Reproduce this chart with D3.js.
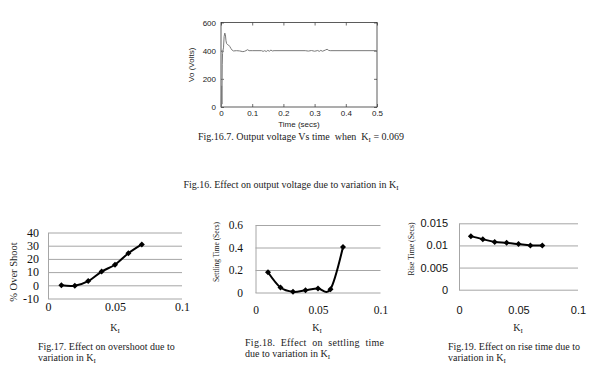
<!DOCTYPE html>
<html>
<head>
<meta charset="utf-8">
<script src="https://cdn.jsdelivr.net/npm/d3@7"></script>
<style>
body { margin: 0; background: #fff; }
text { white-space: pre; }
</style>
</head>
<body>
<script>

// Fig.16.7 step response
var timeVals = [0, 0.001, 0.002, 0.003, 0.004, 0.005, 0.006, 0.008, 0.010, 0.012, 0.014, 0.016, 0.018, 0.020, 0.024, 0.028, 0.032, 0.036, 0.040, 0.050, 0.060, 0.070, 0.075, 0.080, 0.085, 0.090, 0.100, 0.130, 0.135, 0.140, 0.145, 0.150, 0.155, 0.160, 0.165, 0.170, 0.270, 0.280, 0.290, 0.300, 0.310, 0.315, 0.320, 0.325, 0.330, 0.335, 0.340, 0.345, 0.350, 0.500]
var voltVals = [0, 0, 150, 20, 300, 380, 400, 420, 500, 525, 515, 470, 450, 445, 440, 430, 415, 403, 398, 400, 398, 393, 395, 400, 407, 400, 400, 400, 395, 400, 394, 402, 396, 404, 398, 400, 400, 397, 401, 396, 401, 395, 402, 396, 400, 405, 410, 402, 400, 400]
var voltTicks = [0, 200, 400, 600]
var timeTicks = [0, 0.1, 0.2, 0.3, 0.4, 0.5]

// Fig.17-19, effect of KI
var kValues = [0.01, 0.02, 0.03, 0.04, 0.05, 0.06, 0.07]
var overshoot = [0, -0.3, 3.2, 10.4, 15.6, 24.3, 31]
var settling = [0.18, 0.044, 0.006, 0.02, 0.035, 0.03, 0.405]
var riseTime = [0.0121, 0.0114, 0.0108, 0.0106, 0.0103, 0.0100, 0.0100]
var kTicks = [0, 0.05, 0.1]
var osTicks = [-10, 0, 10, 20, 30, 40]
var stTicks = [0, 0.2, 0.4, 0.6]
var rtTicks = [0, 0.005, 0.01, 0.015]

var serif = "'Liberation Serif', 'Times New Roman', serif"
var sans = "'Liberation Sans', Arial, sans-serif"
var fmt = function(d) { return String(+d.toFixed(3)) }

var svg = d3.select("body").append("svg").attr("width", 600).attr("height", 372)

// ---------- top: output voltage vs time ----------
var x0 = d3.scaleLinear().domain([0, 0.5]).range([221, 377])
var y0 = d3.scaleLinear().domain([0, 600]).range([107, 22.5])

function styleBox(g, size) {
  g.select(".domain").remove()
  g.selectAll(".tick line").attr("stroke", "#333").attr("stroke-width", 0.7)
  g.attr("font-family", sans).attr("font-size", size)
  g.selectAll(".tick text").attr("fill", "#222")
}

svg.append("g").attr("transform", "translate(0," + y0(0) + ")")
.call(d3.axisBottom(x0).tickValues(timeTicks).tickFormat(fmt).tickSizeInner(-3).tickSizeOuter(0).tickPadding(3))
.call(styleBox, 8)
svg.append("g").attr("transform", "translate(0," + y0(600) + ")")
.call(d3.axisTop(x0).tickValues(timeTicks).tickFormat("").tickSizeInner(-3).tickSizeOuter(0))
.call(styleBox, 8)
svg.append("g").attr("transform", "translate(" + x0(0) + ",0)")
.call(d3.axisLeft(y0).tickValues(voltTicks).tickSizeInner(-3).tickSizeOuter(0).tickPadding(5))
.call(styleBox, 8)
svg.append("g").attr("transform", "translate(" + x0(0.5) + ",0)")
.call(d3.axisRight(y0).tickValues(voltTicks).tickFormat("").tickSizeInner(-3).tickSizeOuter(0))
.call(styleBox, 8)

svg.append("rect")
.attr("x", x0(0)).attr("y", y0(600))
.attr("width", x0(0.5) - x0(0)).attr("height", y0(0) - y0(600))
.attr("fill", "none").attr("stroke", "#333").attr("stroke-width", 0.8)

var wave = timeVals.map(function(t, i) { return [t, voltVals[i]] })
svg.append("path").datum(wave)
.attr("fill", "none").attr("stroke", "#7a7a7a").attr("stroke-width", 1)
.attr("d", d3.line().x(function(d) { return x0(d[0]) }).y(function(d) { return y0(d[1]) }))

svg.append("text").attr("x", 299).attr("y", 127).attr("text-anchor", "middle")
.attr("font-family", sans).attr("font-size", 8).attr("fill", "#222").text("Time (secs)")
svg.append("text").attr("transform", "translate(194," + ((y0(0) + y0(600)) / 2) + ") rotate(-90)")
.attr("text-anchor", "middle").attr("font-family", sans).attr("font-size", 8).attr("fill", "#222")
.text("Vo (Volts)")

// text ending in K with subscript I
function kCaption(sel, before, after) {
  sel.append("tspan").text(before)
  sel.append("tspan").attr("font-size", "70%").attr("dy", 2).text("I")
  if (after) sel.append("tspan").attr("dy", -2).text(after)
}

svg.append("text").attr("x", 301).attr("y", 140).attr("text-anchor", "middle")
.attr("font-family", serif).attr("font-size", 10).attr("fill", "#222")
.call(kCaption, "Fig.16.7. Output voltage Vs time  when  K", " = 0.069")

svg.append("text").attr("x", 291).attr("y", 188).attr("text-anchor", "middle")
.attr("font-family", serif).attr("font-size", 10).attr("fill", "#222")
.call(kCaption, "Fig.16. Effect on output voltage due to variation in K", null)

// ---------- bottom: three small Excel-style charts ----------
function kChart(c) {
  var x = d3.scaleLinear().domain([0, 0.1]).range(c.xr)
  var y = d3.scaleLinear().domain(c.yDomain).range(c.yr)
  var w = c.xr[1] - c.xr[0]

  var gy = svg.append("g").attr("transform", "translate(" + c.xr[0] + ",0)")
  .call(d3.axisLeft(y).tickValues(c.yTicks).tickFormat(fmt).tickSizeInner(-w).tickSizeOuter(0).tickPadding(c.yPad))
  gy.attr("font-family", c.font).attr("font-size", c.fs)
  gy.selectAll(".tick line").attr("stroke", "#a6a6a6").attr("stroke-width", 1)
  gy.selectAll(".tick text").attr("fill", "#111")
  gy.select(".domain").attr("stroke", "#a6a6a6")

  var gx = svg.append("g").attr("transform", "translate(0," + c.yr[0] + ")")
  .call(d3.axisBottom(x).tickValues(kTicks).tickFormat(fmt).tickSize(0).tickPadding(c.xPad))
  gx.attr("font-family", c.font).attr("font-size", c.fs)
  gx.select(".domain").remove()
  gx.selectAll(".tick text").attr("fill", "#111")

  var pts = kValues.map(function(k, i) { return [k, c.values[i]] })
  svg.append("path").datum(pts)
  .attr("fill", "none").attr("stroke", "#000").attr("stroke-width", 2)
  .attr("d", d3.line().curve(d3.curveCatmullRom.alpha(0))
    .x(function(d) { return x(d[0]) }).y(function(d) { return y(d[1]) }))

  svg.selectAll(null).data(pts).enter().append("path")
  .attr("transform", function(d) { return "translate(" + x(d[0]) + "," + y(d[1]) + ") rotate(45)" })
  .attr("d", d3.symbol().type(d3.symbolSquare).size(18))
  .attr("fill", "#000")

  var t = svg.append("text")
  .attr("transform", "translate(" + c.titleX + "," + c.titleY + ") rotate(-90)")
  .attr("text-anchor", "middle").attr("font-family", serif).attr("font-size", c.titleFs)
  .attr("fill", "#222").text(c.title)
  if (c.titleLen) t.attr("textLength", c.titleLen).attr("lengthAdjust", "spacingAndGlyphs")

  svg.append("text").attr("x", c.kX).attr("y", 331).attr("text-anchor", "middle")
  .attr("font-family", serif).attr("font-size", 10).attr("fill", "#222")
  .call(kCaption, "K", null)

  var l1 = svg.append("text").attr("x", c.capX).attr("y", c.capY)
  .attr("font-family", serif).attr("font-size", 10).attr("fill", "#222").text(c.cap1)
  if (c.capLen) l1.attr("textLength", c.capLen).attr("lengthAdjust", "spacing")
  svg.append("text").attr("x", c.capX).attr("y", c.capY + 11)
  .attr("font-family", serif).attr("font-size", 10).attr("fill", "#222")
  .call(kCaption, c.cap2, null)
}

kChart({
  xr: [48, 182], yr: [298.5, 232.5], yDomain: [-10, 40], yTicks: osTicks,
  values: overshoot, font: serif, fs: 12, yPad: 9, xPad: 3.6,
  title: "% Over Shoot", titleX: 17, titleY: 272, titleFs: 10.5,
  kX: 115, capX: 38, capY: 350,
  cap1: "Fig.17. Effect on overshoot due to", cap2: "variation in K"
})

kChart({
  xr: [255.5, 380.5], yr: [292.5, 225], yDomain: [0, 0.6], yTicks: stTicks,
  values: settling, font: serif, fs: 11.5, yPad: 12.5, xPad: 13.8,
  title: "Settling Time (Secs)", titleX: 219, titleY: 252, titleFs: 9, titleLen: 60,
  kX: 317, capX: 245, capY: 346, capLen: 139,
  cap1: "Fig.18.  Effect  on  settling  time", cap2: "due to variation in K"
})

kChart({
  xr: [459, 578], yr: [289.7, 223.3], yDomain: [0, 0.015], yTicks: rtTicks,
  values: riseTime, font: sans, fs: 11, yPad: 11, xPad: 16.8,
  title: "Rise Time (Secs)", titleX: 414, titleY: 249, titleFs: 9, titleLen: 53,
  kX: 518, capX: 448, capY: 350,
  cap1: "Fig.19. Effect on rise time due to", cap2: "variation in K"
})

</script>
</body>
</html>
